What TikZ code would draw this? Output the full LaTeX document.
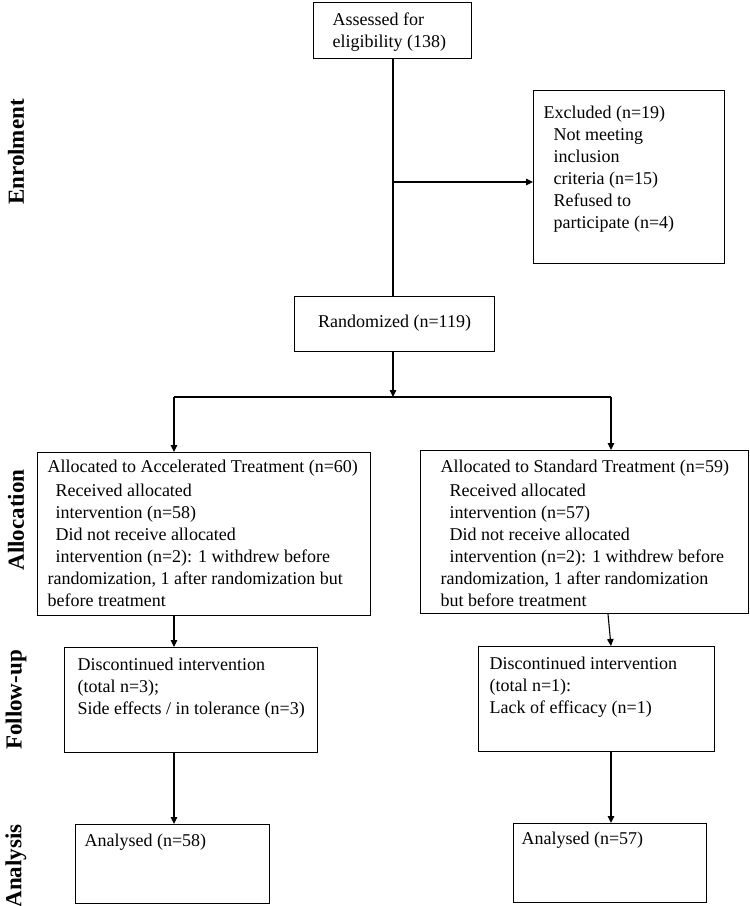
\documentclass[tikz,border=0pt]{standalone}
\usepackage{fontspec}
\setmainfont{Liberation Serif}
\usetikzlibrary{arrows.meta}
\newcommand\bxl[1]{\makebox[0pt][l]{#1}}
\newcommand\bxc[5]{\parbox[c][#2pt][t]{#1pt}{\raggedright\leftskip=#4pt\relax\parskip=0pt\relax\rule{0pt}{#3pt}#5}}
\begin{document}
\begin{tikzpicture}[x=1pt,y=-1pt,
  bx/.style={draw, line width=1.1pt, inner sep=0pt, anchor=north west, font=\fontsize{18}{22}\selectfont},
  arr/.style={line width=1.1pt, -{Triangle[length=7pt,width=6.5pt]}},
  ln/.style={line width=1.1pt},
  lab/.style={rotate=90, inner sep=0pt, font=\fontsize{23}{23}\selectfont\bfseries}]
\useasboundingbox (0,0) rectangle (750,906);

\node[bx] (assess) at (313,2) {\bxc{158}{56}{23}{19}{\bxl{Assessed for}\\\bxl{eligibility (138)}}};

\node[bx] (excl) at (533,90) {\bxc{191}{173}{28}{10}{\bxl{Excluded (n=19)}\\
  \bxl{\hspace*{10pt}Not meeting}\\
  \bxl{\hspace*{10pt}inclusion}\\
  \bxl{\hspace*{10pt}criteria (n=15)}\\
  \bxl{\hspace*{10pt}Refused to}\\
  \bxl{\hspace*{10pt}participate (n=4)}}};

\node[bx] (rand) at (294,296) {\parbox[c][55pt][t]{200pt}{\centering\rule{0pt}{31pt}Randomized (n=119)}};

\node[bx] (allocL) at (37,452) {\bxc{333}{163}{20}{10}{\bxl{Allocated to Accelerated Treatment (n=60)}\\[2pt]
  \bxl{\hspace*{8pt}Received allocated}\\
  \bxl{\hspace*{8pt}intervention (n=58)}\\
  \bxl{\hspace*{8pt}Did not receive allocated}\\
  \bxl{\hspace*{8pt}intervention (n=2): 1 withdrew before}\\
  \bxl{randomization, 1 after randomization but}\\
  \bxl{before treatment}}};

\node[bx] (allocR) at (420,450) {\bxc{328}{163}{22}{20}{\bxl{Allocated to Standard Treatment (n=59)}\\[2pt]
  \bxl{\hspace*{9pt}Received allocated}\\
  \bxl{\hspace*{9pt}intervention (n=57)}\\
  \bxl{\hspace*{9pt}Did not receive allocated}\\
  \bxl{\hspace*{9pt}intervention (n=2): 1 withdrew before}\\
  \bxl{randomization, 1 after randomization}\\
  \bxl{but before treatment}}};

\node[bx] (fuL) at (64,647) {\bxc{253}{105}{23}{13}{\bxl{Discontinued intervention}\\
  \bxl{(total n=3);}\\
  \bxl{Side effects / in tolerance (n=3)}}};

\node[bx] (fuR) at (478,646) {\bxc{236}{105}{23}{11}{\bxl{Discontinued intervention}\\
  \bxl{(total n=1):}\\
  \bxl{Lack of efficacy (n=1)}}};

\node[bx] (anL) at (75,824) {\bxc{194}{79}{22}{9}{\bxl{Analysed (n=58)}}};
\node[bx] (anR) at (513,823) {\bxc{193}{79}{21}{8}{\bxl{Analysed (n=57)}}};

\node[lab] (lenr) at (16,152) {Enrolment};
\node[lab] (lall) at (16,520) {Allocation};
\node[lab] (lfu) at (16,700) {Follow-up};
\node[lab] (lan) at (16,866) {Analysis};

\coordinate (br) at (393,182);
\draw[ln] (assess.south -| br) -- (rand.north -| br);
\draw[arr] (br) -- (br -| excl.west);
\coordinate (sp) at (393,397);
\draw[arr] (rand.south -| sp) -- (sp);
\coordinate (sl) at (174,397);
\coordinate (sr) at (611,397);
\draw[ln] (sl) -- (sr);
\draw[arr] (sl) -- (sl |- allocL.north);
\draw[arr] (sr) -- (sr |- allocR.north);
\draw[arr] (sl |- allocL.south) -- (sl |- fuL.north);
\draw[arr] (sl |- fuL.south) -- (sl |- anL.north);
\coordinate (rb) at (608,0);
\draw[arr] (rb |- allocR.south) -- (sr |- fuR.north);
\draw[arr] (sr |- fuR.south) -- (sr |- anR.north);
\end{tikzpicture}
\end{document}
